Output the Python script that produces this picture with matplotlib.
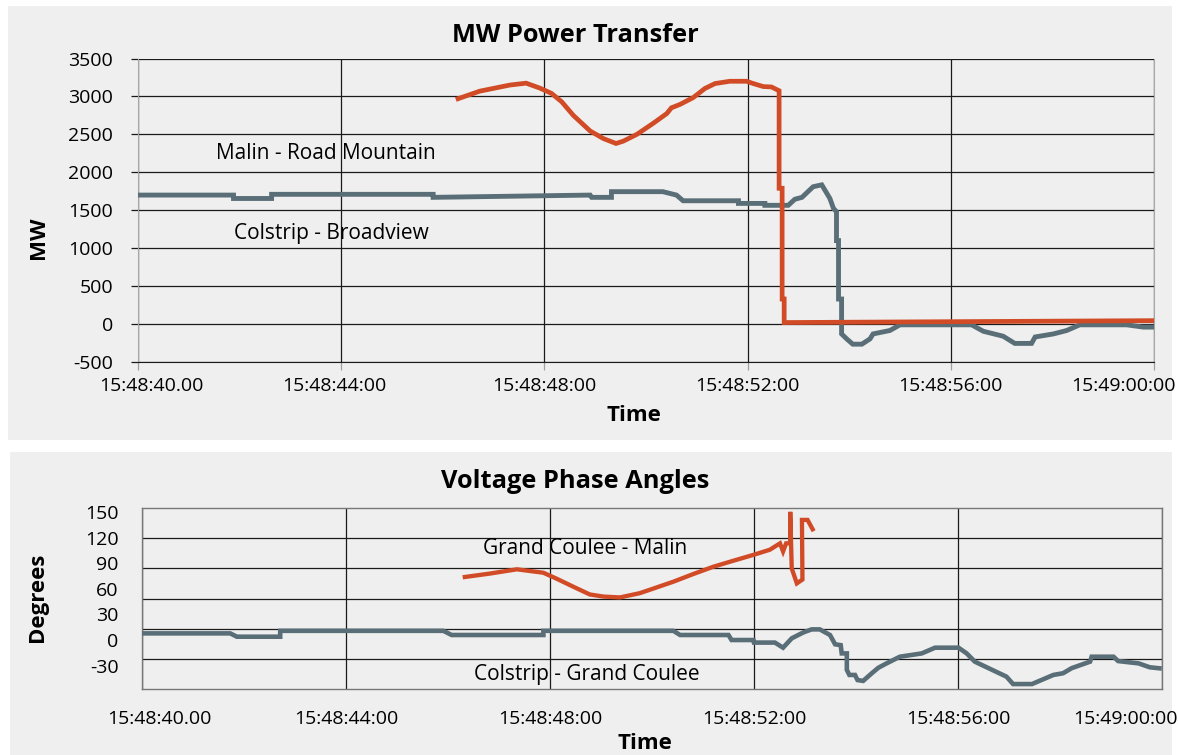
import matplotlib
matplotlib.use("Agg")
import matplotlib.pyplot as plt
from matplotlib.patches import Rectangle
import matplotlib.transforms as mtransforms
import numpy as np

plt.rcParams['font.family'] = ['Open Sans', 'DejaVu Sans']

# ---------------- data (seconds after 15:48:40) ----------------
tick_secs = [0, 4, 8, 12, 16, 20]
tick_labels_top = ["15:48:40.00", "15:48:44:00", "15:48:48:00", "15:48:52:00", "15:48:56:00", "15:49:00:00"]
tick_labels_bot = ["15:48:40.00", "15:48:44:00", "15:48:48:00", "15:48:52:00", "15:48:56:00", "15:49:00:00"]

# MW Power Transfer
malin_rm_t = [6.30, 6.73, 7.32, 7.64, 7.91, 8.14, 8.34, 8.57, 8.90, 9.16, 9.41, 9.55, 9.82,
              10.14, 10.41, 10.50, 10.67, 10.93, 11.16, 11.36, 11.65, 11.98, 12.11, 12.31,
              12.47, 12.62, 12.62, 12.68, 12.68, 12.72, 12.72, 20.0]
malin_rm_mw = [2970, 3070, 3150, 3175, 3110, 3040, 2930, 2750, 2545, 2445, 2380, 2410, 2500,
               2645, 2775, 2850, 2895, 2985, 3105, 3170, 3200, 3200, 3170, 3130,
               3125, 3075, 1790, 1790, 330, 330, 20, 45]

colstrip_bv_t = [0.0, 1.88, 1.88, 2.63, 2.63, 5.81, 5.81, 8.90, 8.93, 9.32, 9.32, 10.33, 10.60,
                 10.73, 11.82, 11.82, 12.34, 12.34, 12.80, 12.93, 13.07, 13.29, 13.46, 13.62,
                 13.69, 13.75, 13.75, 13.79, 13.79, 13.85, 13.85, 13.95, 14.07, 14.25, 14.41,
                 14.47, 14.80, 15.00, 16.41, 16.64, 17.03, 17.26, 17.59, 17.66, 18.02, 18.28,
                 18.54, 19.46, 19.79, 20.05]
colstrip_bv_mw = [1700, 1700, 1655, 1655, 1710, 1710, 1670, 1700, 1670, 1670, 1745, 1745, 1700,
                  1625, 1625, 1590, 1590, 1565, 1565, 1645, 1670, 1810, 1835, 1655,
                  1525, 1480, 1100, 1100, 330, 330, -130, -195, -265, -265, -195,
                  -130, -85, -10, -10, -95, -160, -255, -255, -170, -130, -85,
                  -10, -10, -40, -40]

# Voltage Phase Angles
gcm_t = [6.33, 6.82, 7.35, 7.87, 8.13, 8.46, 8.78, 9.05, 9.37, 9.76, 10.03, 10.42, 10.81,
         11.20, 11.59, 11.99, 12.31, 12.51, 12.57, 12.63, 12.71, 12.71, 12.74, 12.84,
         12.95, 12.94, 13.05, 13.15]
gcm_deg = [74, 78, 83, 79, 72, 62.5, 53.5, 51, 50, 55, 60.5, 68.5, 77.5,
           86, 93, 100, 106, 113.5, 104, 113.5, 113.5, 150.5, 84, 66.5,
           71, 141, 141, 130]

cgc_t = [0.0, 1.73, 1.86, 2.71, 2.71, 5.91, 6.07, 7.87, 7.87, 10.42, 10.55, 11.50, 11.56,
         11.99, 12.00, 12.41, 12.57, 12.74, 12.97, 13.13, 13.29, 13.49, 13.59, 13.70,
         13.72, 13.82, 13.82, 13.87, 13.98, 14.03, 14.14, 14.31, 14.44, 14.60, 14.86,
         15.29, 15.55, 16.01, 16.17, 16.33, 16.95, 17.08, 17.45, 17.87, 18.06, 18.23,
         18.59, 18.62, 19.05, 19.14, 19.54, 19.76, 19.95]
cgc_deg = [7.8, 7.8, 3.9, 3.9, 10.8, 10.8, 5.9, 5.9, 10.8, 10.8, 5.9, 5.9, 0,
           0, -3, -3, -9, 2, 9, 12.5, 12.5, 5.9, -5, -6,
           -15.7, -15.7, -35, -41, -41, -47, -48, -39, -32.5, -27.4, -19.6,
           -15.7, -9, -9, -15.7, -25.4, -43, -51.7, -51.7, -41, -39, -33,
           -25.4, -19.6, -19.6, -24.7, -27.4, -32, -33.2]

mw_ticks = [-500, 0, 500, 1000, 1500, 2000, 2500, 3000, 3500]
deg_ticks = [-30, 0, 30, 60, 90, 120, 150]

ORANGE = '#d14b26'
GRAY = '#5a6e78'
PANEL = '#eeefee'
W, H = 1178, 755
TICK_FS = 14

fig = plt.figure(figsize=(W / 100, H / 100), dpi=100, facecolor='white')

# panel backgrounds
fig.patches.append(Rectangle((8 / W, 1 - 440 / H), 1164 / W, 434 / H,
                             transform=fig.transFigure, facecolor=PANEL, edgecolor='none', zorder=-10))
fig.patches.append(Rectangle((10 / W, 0), 1162 / W, 303 / H,
                             transform=fig.transFigure, facecolor=PANEL, edgecolor='none', zorder=-10))


def px_axes(l, r, t, b):
    return [l / W, 1 - b / H, (r - l) / W, (b - t) / H]


def shift_label(lbl, dx_px):
    lbl.set_transform(lbl.get_transform() +
                      mtransforms.ScaledTranslation(dx_px / 100, 0, fig.dpi_scale_trans))


# ---------------- top chart ----------------
ax1 = fig.add_axes(px_axes(138, 1154, 58.5, 362))
ax1.set_facecolor(PANEL)
ax1.plot(colstrip_bv_t, colstrip_bv_mw, color=GRAY, lw=3.5, solid_joinstyle='miter', zorder=3)
ax1.plot(malin_rm_t, malin_rm_mw, color=ORANGE, lw=3.4, solid_joinstyle='miter', zorder=4)
ax1.set_xlim(0, 20)
ax1.set_ylim(-500, 3500)
ax1.set_yticks(mw_ticks)
ax1.set_yticklabels([str(v) for v in mw_ticks], fontsize=TICK_FS)
ax1.set_xticks(tick_secs)
ax1.set_xticklabels(tick_labels_top, fontsize=TICK_FS)
ax1.grid(True, color='#1a1a1a', lw=0.9)
ax1.set_axisbelow(True)
ax1.tick_params(axis='y', length=5, color='#1a1a1a', width=0.9, pad=13)
ax1.tick_params(axis='x', length=6, color='#a0a0a0', width=0.9, pad=5)
for s in ['left', 'right']:
    ax1.spines[s].set_color('#a8a8a8')
ax1.spines['top'].set_visible(False)
ax1.spines['bottom'].set_color('#1a1a1a')
ax1.set_ylabel('MW', fontsize=16, fontweight='bold')
ax1.yaxis.set_label_coords(-0.088, 0.41)
ax1.set_xlabel('Time', fontsize=16, fontweight='bold')
ax1.xaxis.set_label_coords(0.488, -0.142)
ax1.text(3.7, 2250, 'Malin - Road Mountain', fontsize=15, ha='center', va='center', zorder=5)
ax1.text(3.8, 1200, 'Colstrip - Broadview', fontsize=15, ha='center', va='center', zorder=5)
fig.text(575 / W, 1 - 35 / H, 'MW Power Transfer', fontsize=18.3, fontweight='bold',
         ha='center', va='center')
xl = ax1.get_xticklabels()
shift_label(xl[0], 13)
shift_label(xl[1], -7)
shift_label(xl[-1], -31)

# ---------------- bottom chart ----------------
ylo, yhi = -57.5, 155.0
ax2 = fig.add_axes(px_axes(142, 1162, 508, 689))
ax2.set_facecolor(PANEL)
ax2.plot(cgc_t, cgc_deg, color=GRAY, lw=3.3, solid_joinstyle='miter', zorder=3)
ax2.plot(gcm_t, gcm_deg, color=ORANGE, lw=3.1, solid_joinstyle='miter', zorder=4)
ax2.set_xlim(0, 20)
ax2.set_ylim(ylo, yhi)
ax2.set_yticks(deg_ticks)
ax2.set_yticklabels([str(v) for v in deg_ticks], fontsize=TICK_FS)
ax2.set_yticks(np.linspace(ylo, yhi, 7)[1:-1], minor=True)
ax2.set_xticks(tick_secs)
ax2.set_xticklabels(tick_labels_bot, fontsize=TICK_FS)
ax2.grid(True, which='minor', axis='y', color='#1a1a1a', lw=0.9)
ax2.grid(True, which='major', axis='x', color='#1a1a1a', lw=0.9)
ax2.set_axisbelow(True)
ax2.tick_params(axis='y', which='both', length=0, pad=17)
ax2.tick_params(axis='x', length=0, pad=15)
for s in ax2.spines.values():
    s.set_color('#777777')
    s.set_linewidth(1.0)
ax2.set_ylabel('Degrees', fontsize=16, fontweight='bold')
ax2.yaxis.set_label_coords(-0.092, 0.508)
ax2.set_xlabel('Time', fontsize=16, fontweight='bold')
ax2.xaxis.set_label_coords(0.493, -0.244)
ax2.text(8.69, 107, 'Grand Coulee - Malin', fontsize=15, ha='center', va='center', zorder=5)
ax2.text(8.73, -40, 'Colstrip - Grand Coulee', fontsize=15, ha='center', va='center', zorder=5)
fig.text(575 / W, 1 - 482 / H, 'Voltage Phase Angles', fontsize=18.3, fontweight='bold',
         ha='center', va='center')
xl2 = ax2.get_xticklabels()
shift_label(xl2[0], 17)
shift_label(xl2[-1], -37)

fig.savefig('out.png', dpi=100, facecolor='white')
